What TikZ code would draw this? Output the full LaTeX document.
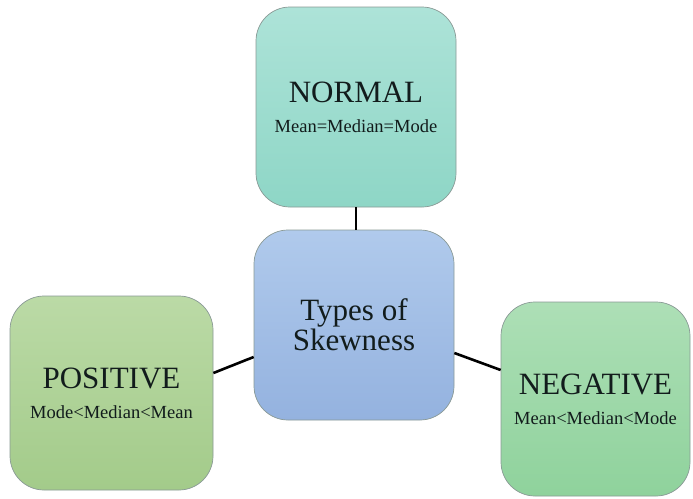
\documentclass[tikz,border=0pt]{standalone}
\usepackage{fontspec}
\setmainfont{Liberation Serif}
\usetikzlibrary{calc}
\definecolor{normtop}{HTML}{ADE3D8}
\definecolor{normbot}{HTML}{8ED6C6}
\definecolor{hubtop}{HTML}{B0CAEC}
\definecolor{hubbot}{HTML}{94B2DF}
\definecolor{postop}{HTML}{BBDAA6}
\definecolor{posbot}{HTML}{A3CB8A}
\definecolor{negtop}{HTML}{ADDFB6}
\definecolor{negbot}{HTML}{8FD29C}
\definecolor{boxline}{HTML}{8A9A96}
\definecolor{ink}{HTML}{121C1C}
\newcommand{\subline}[1]{{\fontsize{18.5}{20}\selectfont #1}}
\tikzset{
  skbox/.style={draw=boxline, line width=0.7pt, rounded corners=34pt,
    align=center, inner sep=0pt, text=ink,
    font=\fontsize{31}{30}\selectfont},
  link/.style={draw=black, line width=2.6pt}
}
\begin{document}
\begin{tikzpicture}[x=1pt,y=-1pt]
  \useasboundingbox (0,0) rectangle (693,498);
  \fill[white] (0,0) rectangle (693,498);

  % category boxes
  \node[skbox, minimum width=200pt, minimum height=200pt,
        top color=normtop, bottom color=normbot] (normal) at (356,107)
    {NORMAL\\\subline{Mean=Median=Mode}};
  \node[skbox, minimum width=200pt, minimum height=190pt,
        top color=hubtop, bottom color=hubbot] (hub) at (354,325)
    {Types of\\Skewness};
  \node[skbox, minimum width=203pt, minimum height=194pt,
        top color=postop, bottom color=posbot] (positive) at (111.5,393)
    {POSITIVE\\\subline{Mode<Median<Mean}};
  \node[skbox, minimum width=189pt, minimum height=194pt,
        top color=negtop, bottom color=negbot] (negative) at (595.5,399)
    {NEGATIVE\\\subline{Mean<Median<Mode}};

  % connectors to the hub
  \draw[link] (normal.south) -- (normal.south |- hub.north);
  \draw[link] ([yshift=20pt]positive.east) -- ([yshift=-32pt]hub.west);
  \draw[link] ([yshift=-28pt]hub.east) -- ([yshift=29pt]negative.west);
\end{tikzpicture}
\end{document}
